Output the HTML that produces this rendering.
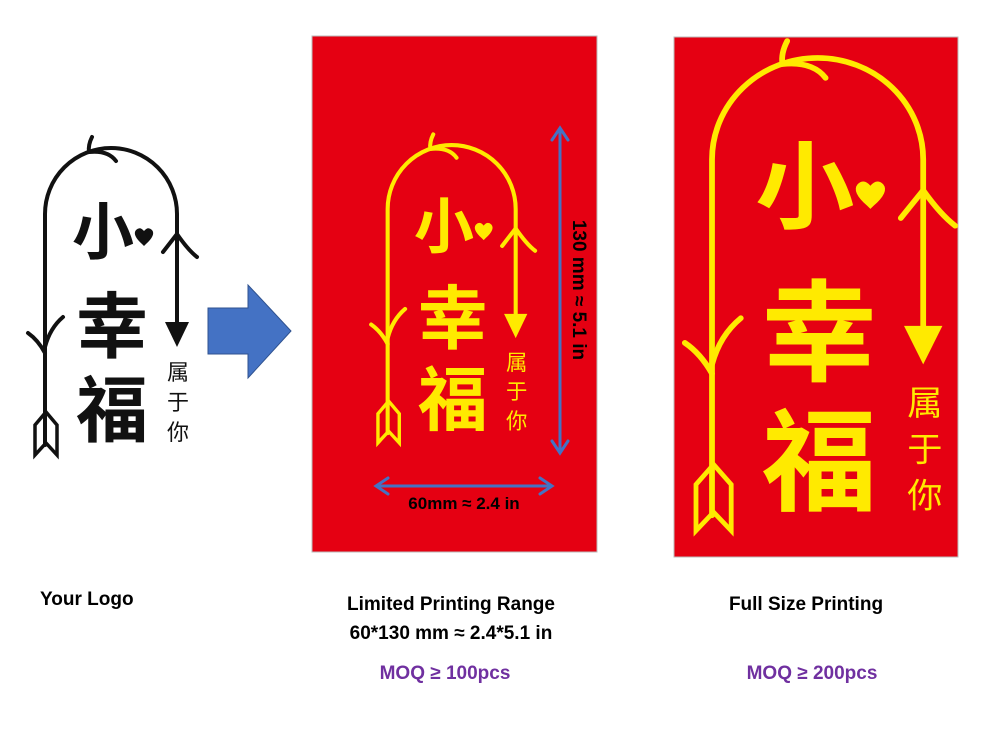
<!DOCTYPE html>
<html><head><meta charset="utf-8"><style>
html,body{margin:0;padding:0;background:#fff;width:996px;height:729px;overflow:hidden}
svg{display:block}
</style></head><body>
<svg width="996" height="729" viewBox="0 0 996 729" xmlns="http://www.w3.org/2000/svg" font-family="'Liberation Sans','Noto Sans CJK SC',sans-serif">
<rect x="312" y="36" width="285" height="516" fill="#e50012" stroke="#bbb" stroke-width="1"/>
<rect x="674" y="37" width="284" height="520" fill="#e50012" stroke="#bbb" stroke-width="1"/>

<!-- left logo -->
<g fill="none" stroke="#111" stroke-width="4" stroke-linecap="round">
 <path d="M45,445 L45,214 A66,66 0 0 1 177,214 L177,325"/>
 <polygon points="165,322 189,322 177,347" fill="#111" stroke="none"/>
 <path d="M92,137 Q88,145 89,152 Q108,150 116,161"/>
 <path d="M177,234 L163,252 M177,234 Q188,250 197,257"/>
 <path d="M45,353 Q38,340 28,333 M45,347 Q50,328 63,317"/>
 <path d="M35,425 L35,455 L46,443 L57,455 L57,425 L46,412 Z" stroke-width="3.5"/>
 <g fill="#111" stroke="none" font-weight="bold" text-anchor="middle" font-family="'Noto Sans CJK SC',sans-serif">
  <text x="103" y="254" font-size="62">小</text>
  <text x="112" y="352" font-size="72">幸</text>
  <text x="112" y="436" font-size="72">福</text>
  <text x="178" y="380" font-size="22" font-weight="normal">属</text>
  <text x="178" y="410" font-size="22" font-weight="normal">于</text>
  <text x="178" y="440" font-size="22" font-weight="normal">你</text>
 </g>
 <path d="M142,244 q-10,-9 -6,-14 q4,-4 8,1 q4,-5 8,-1 q4,5 -6,14 l-2,2 z" fill="#111" stroke="none"/>
</g>

<!-- middle logo -->
<g transform="translate(344,1.5) scale(0.97)" fill="none" stroke="#ffea00" stroke-width="4.2" stroke-linecap="round">
 <path d="M45,445 L45,214 A66,66 0 0 1 177,214 L177,325"/>
 <polygon points="165,322 189,322 177,347" fill="#ffea00" stroke="none"/>
 <path d="M92,137 Q88,145 89,152 Q108,150 116,161"/>
 <path d="M177,234 L163,252 M177,234 Q188,250 197,257"/>
 <path d="M45,353 Q38,340 28,333 M45,347 Q50,328 63,317"/>
 <path d="M35,425 L35,455 L46,443 L57,455 L57,425 L46,412 Z" stroke-width="3.5"/>
 <g fill="#ffea00" stroke="none" font-weight="bold" text-anchor="middle" font-family="'Noto Sans CJK SC',sans-serif">
  <text x="103" y="254" font-size="62">小</text>
  <text x="112" y="352" font-size="72">幸</text>
  <text x="112" y="436" font-size="72">福</text>
  <text x="178" y="380" font-size="22" font-weight="normal">属</text>
  <text x="178" y="410" font-size="22" font-weight="normal">于</text>
  <text x="178" y="440" font-size="22" font-weight="normal">你</text>
 </g>
 <path d="M142,244 q-10,-9 -6,-14 q4,-4 8,1 q4,-5 8,-1 q4,5 -6,14 l-2,2 z" fill="#ffea00" stroke="none"/>
</g>

<!-- right logo -->
<g transform="translate(640,-170) scale(1.6,1.54)" fill="none" stroke="#ffea00" stroke-width="3.6" stroke-linecap="round">
 <path d="M45,445 L45,214 A66,66 0 0 1 177,214 L177,325"/>
 <polygon points="165,322 189,322 177,347" fill="#ffea00" stroke="none"/>
 <path d="M92,137 Q88,145 89,152 Q108,150 116,161"/>
 <path d="M177,234 L163,252 M177,234 Q188,250 197,257"/>
 <path d="M45,353 Q38,340 28,333 M45,347 Q50,328 63,317"/>
 <path d="M35,425 L35,455 L46,443 L57,455 L57,425 L46,412 Z" stroke-width="3"/>
 <g fill="#ffea00" stroke="none" font-weight="bold" text-anchor="middle" font-family="'Noto Sans CJK SC',sans-serif">
  <text x="103" y="254" font-size="62">小</text>
  <text x="112" y="352" font-size="72">幸</text>
  <text x="112" y="436" font-size="72">福</text>
  <text x="178" y="380" font-size="22" font-weight="normal">属</text>
  <text x="178" y="410" font-size="22" font-weight="normal">于</text>
  <text x="178" y="440" font-size="22" font-weight="normal">你</text>
 </g>
 <path d="M142,244 q-10,-9 -6,-14 q4,-4 8,1 q4,-5 8,-1 q4,5 -6,14 l-2,2 z" fill="#ffea00" stroke="none"/>
</g>

<!-- blue big arrow -->
<polygon points="208,308 248,308 248,285 291,331 248,378 248,354 208,354" fill="#4472c4" stroke="#2f528f" stroke-width="1"/>

<!-- dimension arrows -->
<g stroke="#4472c4" stroke-width="3" fill="none" stroke-linecap="round">
 <path d="M560,130 L560,451 M552,140 L560,128 L568,140 M552,441 L560,453 L568,441"/>
 <path d="M377,486 L551,486 M388,478 L376,486 L388,494 M540,478 L552,486 L540,494"/>
</g>
<text transform="translate(573,290) rotate(90)" font-size="19" font-weight="bold" text-anchor="middle" fill="#000">130 mm ≈ 5.1 in</text>
<text x="464" y="509" font-size="17" font-weight="bold" text-anchor="middle" fill="#000">60mm ≈ 2.4 in</text>

<!-- labels -->
<g font-weight="bold" font-size="19" fill="#000">
 <text x="40" y="605">Your Logo</text>
 <text x="451" y="610" text-anchor="middle">Limited Printing Range</text>
 <text x="451" y="639" text-anchor="middle">60*130 mm ≈ 2.4*5.1 in</text>
 <text x="806" y="610" text-anchor="middle">Full Size Printing</text>
 <text x="445" y="679" text-anchor="middle" fill="#7030a0">MOQ ≥ 100pcs</text>
 <text x="812" y="679" text-anchor="middle" fill="#7030a0">MOQ ≥ 200pcs</text>
</g>
</svg>
</body></html>
